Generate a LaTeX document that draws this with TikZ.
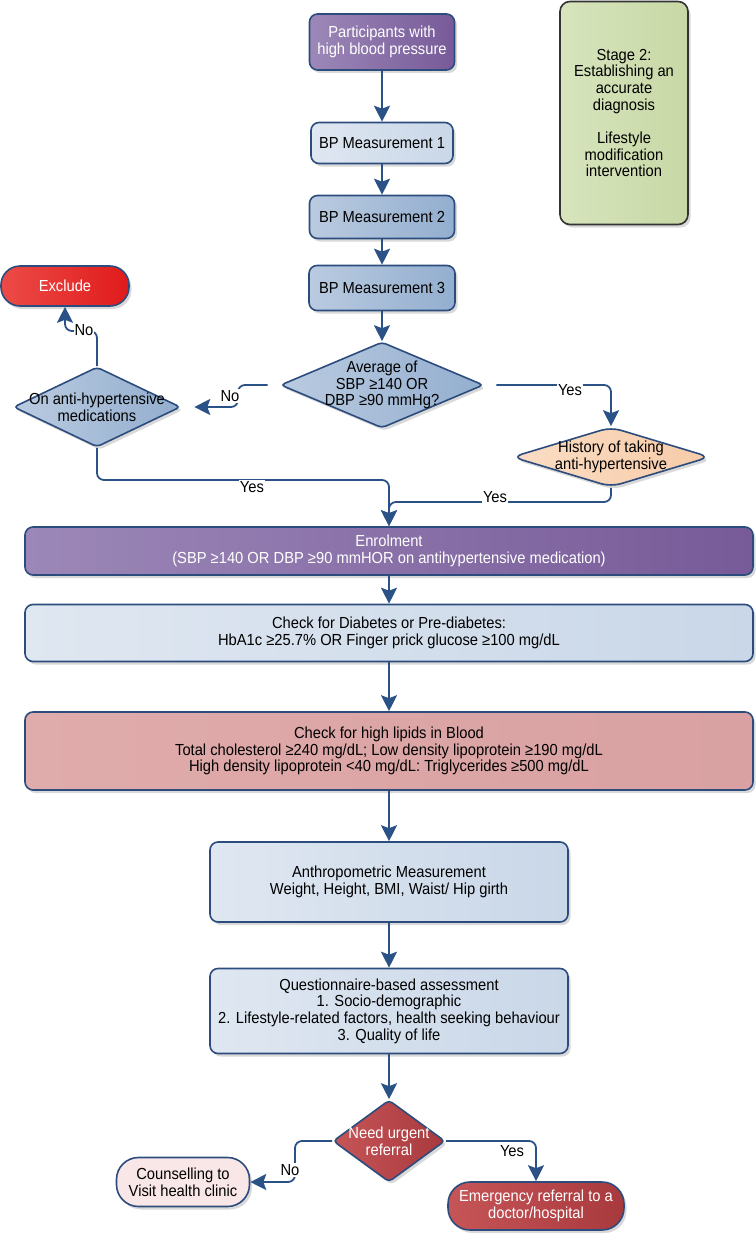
\documentclass[tikz,border=0pt]{standalone}
\usepackage{fontspec}
\setmainfont[FakeStretch=0.92]{Liberation Sans}
\usepackage{tikz}
\usetikzlibrary{arrows.meta,shadows,shapes.geometric,calc,positioning}

\definecolor{randblau}{HTML}{2C4C7E}
\definecolor{pfeilblau}{HTML}{2A5287}
\definecolor{lilaL}{HTML}{9C88B8}
\definecolor{lilaR}{HTML}{775A98}
\definecolor{hellL}{HTML}{DFE7F1}
\definecolor{hellR}{HTML}{C9D7E8}
\definecolor{blauL}{HTML}{BACBE0}
\definecolor{blauR}{HTML}{93AECF}
\definecolor{rotL}{HTML}{EC4B47}
\definecolor{rotR}{HTML}{E01B1B}
\definecolor{dunkelL}{HTML}{C65557}
\definecolor{dunkelR}{HTML}{A8393D}
\definecolor{lachsL}{HTML}{FBDDC4}
\definecolor{lachsR}{HTML}{F6CBA8}
\definecolor{rosaL}{HTML}{E0ABAB}
\definecolor{rosaR}{HTML}{D9A1A1}
\definecolor{gruenL}{HTML}{D7E4BD}
\definecolor{gruenR}{HTML}{C8D8A5}
\definecolor{zartrosa}{HTML}{F9E7E7}

\tikzset{
  kasten/.style={rectangle, rounded corners=8pt, draw=randblau, line width=1.6pt,
    align=center, inner sep=0pt, font=\fontsize{16}{16.7}\selectfont,
    drop shadow={shadow xshift=2.5pt, shadow yshift=-3pt, opacity=0.3}},
  raute/.style={kasten, diamond, rounded corners=4pt, inner sep=-14pt},
  pille/.style={kasten, rounded corners=19pt},
  lila/.style={left color=lilaL, right color=lilaR, text=white},
  hell/.style={left color=hellL, right color=hellR},
  blau/.style={left color=blauL, right color=blauR},
  rot/.style={left color=rotL, right color=rotR, text=white},
  dunkelrot/.style={left color=dunkelL, right color=dunkelR, text=white},
  lachs/.style={left color=lachsL, right color=lachsR},
  rosa/.style={left color=rosaL, right color=rosaR},
  gruen/.style={left color=gruenL, right color=gruenR},
  fluss/.style={draw=pfeilblau, line width=1.8pt, rounded corners=7pt,
    -{Stealth[length=16pt,width=16pt,inset=3pt]}},
  marke/.style={font=\fontsize{16}{16.7}\selectfont, inner sep=1pt}
}

\begin{document}
\begin{tikzpicture}[x=1pt,y=-1pt]
%Alle Koordinaten in Pixeln des Bildes, y zeigt nach unten
\useasboundingbox (0,0) rectangle (755,1236);
\pgfmathsetmacro{\oben}{382}
\pgfmathsetmacro{\unten}{389}
%Stufe 2: Messungen und Entscheidungen
\node[kasten,lila,minimum width=145pt,minimum height=56pt] (teilnehmer) at (\oben,42) {Participants with\\high blood pressure};
\node[kasten,gruen,draw=black!80,rounded corners=10pt,minimum width=128pt,minimum height=223pt] (phase) at (624,113) {Stage 2:\\Establishing an\\accurate\\diagnosis\\[16.7pt]Lifestyle\\modification\\intervention};
\node[kasten,hell,minimum width=142pt,minimum height=41pt] (bp1) at (\oben,143) {BP Measurement 1};
\node[kasten,blau,minimum width=145pt,minimum height=43pt] (bp2) at (\oben,217) {BP Measurement 2};
\node[kasten,blau,minimum width=146pt,minimum height=45pt] (bp3) at (\oben,288) {BP Measurement 3};
\node[pille,rot,minimum width=128pt,minimum height=40pt] (exclude) at (65,286) {Exclude};
\node[raute,blau,aspect=2.36,minimum width=203pt,minimum height=86pt] (mittel) at (\oben,385) {Average of\\SBP ≥140 OR\\DBP ≥90 mmHg?};
\node[raute,blau,aspect=2.09,minimum width=167pt,minimum height=80pt] (medik) at (97,407) {On anti-hypertensive\\medications};
\node[raute,lachs,aspect=3.3,rounded corners=10pt,minimum width=198pt,minimum height=60pt] (historie) at (611,457) {History of taking\\anti-hypertensive};
%Aufnahme und Untersuchungen
\node[kasten,lila,minimum width=728pt,minimum height=48pt] (aufnahme) at (\unten,551) {Enrolment\\(SBP ≥140 OR DBP ≥90 mmHOR on antihypertensive medication)};
\node[kasten,hell,minimum width=728pt,minimum height=57pt] (diabetes) at (\unten,633) {Check for Diabetes or Pre-diabetes:\\HbA1c ≥25.7\% OR Finger prick glucose ≥100 mg/dL};
\node[kasten,rosa,minimum width=728pt,minimum height=78pt] (lipide) at (\unten,751) {Check for high lipids in Blood\\Total cholesterol ≥240 mg/dL; Low density lipoprotein ≥190 mg/dL\\High density lipoprotein <40 mg/dL: Triglycerides ≥500 mg/dL};
\node[kasten,hell,minimum width=358pt,minimum height=80pt] (anthro) at (\unten,882) {Anthropometric Measurement\\Weight, Height, BMI, Waist/ Hip girth};
\node[kasten,hell,minimum width=358pt,minimum height=85pt] (fragebogen) at (\unten,1011) {Questionnaire-based assessment\\1. Socio-demographic\\2. Lifestyle-related factors, health seeking behaviour\\3. Quality of life};
\node[raute,dunkelrot,aspect=1.35,minimum width=112pt,minimum height=82pt] (dringend) at (\unten,1141) {Need urgent\\referral};
\node[pille,fill=zartrosa,minimum width=133pt,minimum height=49pt,rounded corners=22pt] (beratung) at (183,1182) {Counselling to\\Visit health clinic};
\node[pille,dunkelrot,minimum width=176pt,minimum height=48pt,rounded corners=22pt] (notfall) at (536,1206) {Emergency referral to a\\doctor/hospital};

%Pfeile
\draw[fluss] (teilnehmer) -- (bp1);
\draw[fluss] (bp1) -- (bp2);
\draw[fluss] (bp2) -- (bp3);
\draw[fluss] (bp3) -- (mittel);
\draw[fluss,shorten <=12pt,shorten >=13pt] (mittel.west) -- (238,385) |- (medik.east);
\node[marke,fill=white] (nein1) at (230,396) {No};
\draw[fluss] (medik.north) -- (97,331) -| (exclude.south);
\node[marke,fill=white] (nein2) at (84,330) {No};
\draw[fluss] (medik.south) |- (250,480) -| (aufnahme.north);
\node[marke,fill=white] (ja1) at (252,487) {Yes};
\draw[fluss,shorten <=12pt] (mittel.east) -| (historie.north);
\node[marke,fill=white] (ja2) at (570,390) {Yes};
\draw[fluss] (historie.south) |- (495,502) -| (aufnahme.north);
\node[marke,fill=white] (ja3) at (495,497) {Yes};
\draw[fluss] (aufnahme) -- (diabetes);
\draw[fluss] (diabetes) -- (lipide);
\draw[fluss] (lipide) -- (anthro);
\draw[fluss] (anthro) -- (fragebogen);
\draw[fluss] (fragebogen) -- (dringend);
\draw[fluss] (dringend.west) -- (295,1141) |- (beratung.east);
\node[marke,fill=white] (nein3) at (290,1170) {No};
\draw[fluss] (dringend.east) -| (notfall.north);
\node[marke,fill=white] (ja4) at (512,1151) {Yes};
\end{tikzpicture}
\end{document}
